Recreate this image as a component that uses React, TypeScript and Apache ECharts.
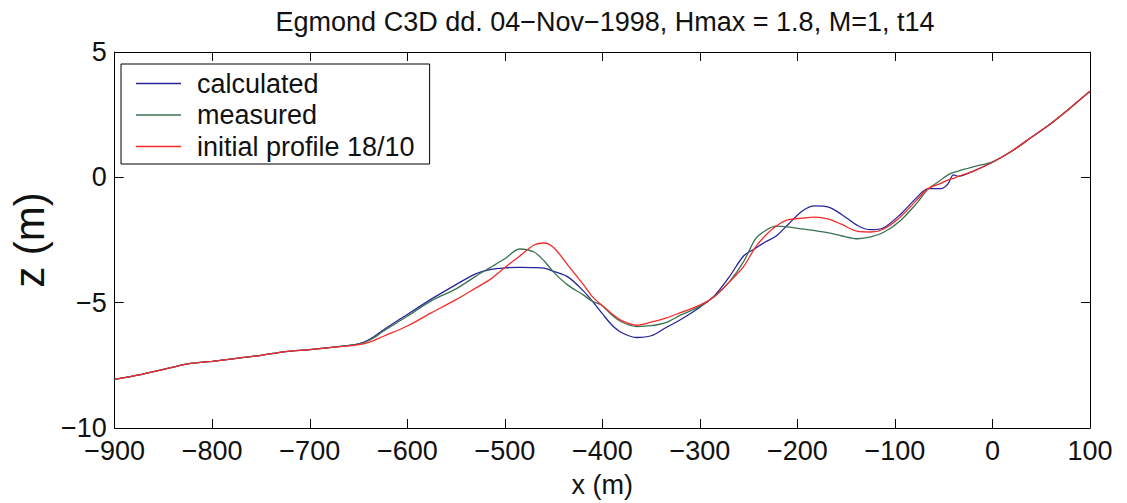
import React, { useEffect, useRef } from "react";
import * as echarts from "echarts";

const xs = [
  -900, -875, -850, -825, -800, -775, -750, -725, -700, -675, -655, -645, -635, -625, -600, -575, -550,
  -530, -515, -500, -485, -470, -460, -450, -435, -420, -410, -400, -390, -380, -365, -350, -335,
  -320, -300, -285, -270, -255, -243, -233, -222, -210, -195, -182, -168, -155, -138, -125, -112,
  -95, -78, -66, -53, -46, -40, -35, -20, 0, 20, 40, 60, 80, 100,
];

const calculated = [
  -8.06, -7.88, -7.66, -7.44, -7.34, -7.22, -7.1, -6.95, -6.87, -6.77, -6.68, -6.58, -6.38, -6.1, -5.47, -4.85, -4.28,
  -3.85, -3.68, -3.61, -3.59, -3.6, -3.62, -3.75, -3.98, -4.51, -4.95, -5.44, -5.9, -6.2, -6.39, -6.32, -6.0,
  -5.68, -5.18, -4.72, -3.98, -3.13, -2.83, -2.58, -2.35, -1.9, -1.34, -1.14, -1.19, -1.47, -1.93, -2.09, -2.02,
  -1.5, -0.82, -0.45, -0.45, -0.28, 0.1, 0.04, 0.24, 0.6, 1.05, 1.6, 2.15, 2.78, 3.43,
];

const measured = [
  -8.06, -7.88, -7.66, -7.44, -7.34, -7.22, -7.1, -6.95, -6.87, -6.77, -6.68, -6.6, -6.42, -6.15, -5.54, -4.92, -4.45,
  -3.95, -3.6, -3.25, -2.86, -2.98, -3.32, -3.78, -4.31, -4.68, -4.95, -5.12, -5.5, -5.77, -5.95, -5.92, -5.8,
  -5.5, -5.15, -4.75, -4.18, -3.35, -2.46, -2.13, -1.95, -1.98, -2.06, -2.13, -2.22, -2.33, -2.45, -2.38, -2.2,
  -1.75, -1.05, -0.47, -0.11, 0.09, 0.2, 0.25, 0.42, 0.62, 1.05, 1.6, 2.15, 2.78, 3.43,
];

const initialProfile = [
  -8.06, -7.88, -7.66, -7.44, -7.34, -7.22, -7.1, -6.95, -6.87, -6.77, -6.7, -6.64, -6.52, -6.35, -5.93, -5.4, -4.88,
  -4.42, -4.07, -3.6, -3.15, -2.7, -2.62, -2.8, -3.52, -4.25, -4.77, -5.12, -5.45, -5.72, -5.9, -5.78, -5.62,
  -5.4, -5.1, -4.75, -4.18, -3.55, -2.78, -2.33, -1.95, -1.7, -1.63, -1.59, -1.67, -1.87, -2.16, -2.18, -2.07,
  -1.6, -0.92, -0.45, -0.24, -0.11, -0.04, 0.04, 0.24, 0.6, 1.05, 1.6, 2.15, 2.78, 3.43,
];

const seriesNames = ["calculated", "measured", "initial profile 18/10"];
const seriesColors = ["#25259b", "#3a7352", "#f52a2a"];
const titleText = "Egmond C3D dd. 04\u2212Nov\u22121998, Hmax = 1.8, M=1, t14";

export default function App() {
  const ref = useRef<HTMLDivElement>(null);
  useEffect(() => {
    const chart = echarts.init(ref.current!, null, { renderer: "svg" });
    const font = "'Liberation Sans', Arial, Helvetica, sans-serif";
    const fmt = (v: number) => String(v).replace("-", "\u2212");
    const dataSets = [calculated, measured, initialProfile];
    const boxAxisCommon = {
      axisLine: { show: true, onZero: false, lineStyle: { color: "#000", width: 1 } },
      axisTick: { show: true, inside: true, length: 9, lineStyle: { color: "#000", width: 1 } },
      splitLine: { show: false },
    };
    chart.setOption({
      animation: false,
      backgroundColor: "#fff",
      textStyle: { fontFamily: font },
      title: {
        text: titleText,
        left: 600,
        textAlign: "center",
        top: 3,
        textStyle: { fontSize: 27, fontWeight: "normal", color: "#111", fontFamily: font },
      },
      grid: { left: 107, right: 37, top: 52, bottom: 73, containLabel: false },
      legend: {
        orient: "vertical",
        left: 121,
        top: 64,
        icon: "rect",
        itemWidth: 45,
        itemHeight: 1.5,
        itemGap: 4.5,
        padding: [6, 15, 4, 15],
        borderColor: "#000",
        borderWidth: 1,
        backgroundColor: "#fff",
        data: seriesNames,
        textStyle: { fontSize: 27, color: "#111", lineHeight: 27, padding: [0, 0, 0, 11], fontFamily: font },
      },
      xAxis: [
        {
          type: "value",
          min: -900,
          max: 100,
          interval: 100,
          position: "bottom",
          ...boxAxisCommon,
          axisLabel: { formatter: fmt, fontSize: 27, color: "#111", margin: 9, fontFamily: font },
          name: "x (m)",
          nameLocation: "middle",
          nameGap: 43,
          nameTextStyle: { fontSize: 27, color: "#111", fontFamily: font },
        },
        {
          type: "value",
          min: -900,
          max: 100,
          interval: 100,
          position: "top",
          ...boxAxisCommon,
          axisLabel: { show: false },
        },
      ],
      yAxis: [
        {
          type: "value",
          min: -10,
          max: 5,
          interval: 5,
          position: "left",
          ...boxAxisCommon,
          axisLabel: { formatter: fmt, fontSize: 27, color: "#111", margin: 8, fontFamily: font },
          name: "z (m)",
          nameLocation: "middle",
          nameGap: 56,
          nameTextStyle: { fontSize: 42, color: "#111", fontFamily: font },
        },
        {
          type: "value",
          min: -10,
          max: 5,
          interval: 5,
          position: "right",
          ...boxAxisCommon,
          axisLabel: { show: false },
        },
      ],
      series: seriesNames.map((name, k) => ({
        name,
        type: "line",
        xAxisIndex: 0,
        yAxisIndex: 0,
        data: xs.map((x, i) => [x, dataSets[k][i]]),
        showSymbol: false,
        symbol: "none",
        smooth: 0.3,
        lineStyle: { color: seriesColors[k], width: 1.3 },
        itemStyle: { color: seriesColors[k] },
        emphasis: { disabled: true },
      })),
    });
    return () => chart.dispose();
  }, []);
  return (
    <div
      ref={ref}
      style={{ position: "fixed", left: 0, top: 0, width: 1127, height: 503, background: "#fff" }}
    />
  );
}
